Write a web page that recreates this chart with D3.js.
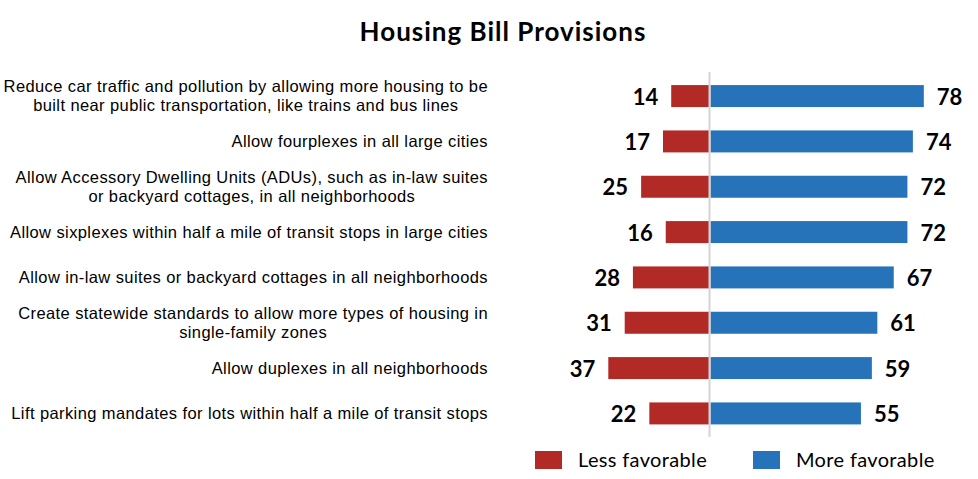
<!DOCTYPE html>
<html>
<head>
<meta charset="utf-8">
<script src="https://cdn.jsdelivr.net/npm/d3@7"></script>
<style>
  body { margin: 0; background: #fff; }
  svg { display: block; }
</style>
</head>
<body>
<svg id="chart" width="978" height="479"></svg>
<script>
const categories = [
  ["Reduce car traffic and pollution by allowing more housing to be", "built near public transportation, like trains and bus lines"],
  ["Allow fourplexes in all large cities"],
  ["Allow Accessory Dwelling Units (ADUs), such as in-law suites", "or backyard cottages, in all neighborhoods"],
  ["Allow sixplexes within half a mile of transit stops in large cities"],
  ["Allow in-law suites or backyard cottages in all neighborhoods"],
  ["Create statewide standards to allow more types of housing in", "single-family zones"],
  ["Allow duplexes in all neighborhoods"],
  ["Lift parking mandates for lots within half a mile of transit stops"]
];
const lessFavorable = [14, 17, 25, 16, 28, 31, 37, 22];
const moreFavorable = [78, 74, 72, 72, 67, 61, 59, 55];
const seriesNames = ["Less favorable", "More favorable"];
const colors = ["#B22A26", "#2673BA"];

const svg = d3.select("#chart");
const center = 709.5;
const pxPerUnit = 2.735;

const x = d3.scaleLinear().domain([-100, 100]).range([center - 100 * pxPerUnit, center + 100 * pxPerUnit]);
const y = d3.scaleBand().domain(d3.range(categories.length)).range([73.3, 436.2]).paddingInner(0.515).paddingOuter(0.26);

// Title
svg.append("text")
  .attr("x", 503).attr("y", 41)
  .attr("text-anchor", "middle")
  .style("font-family", "Lato, 'Open Sans', sans-serif")
  .style("font-weight", "bold")
  .style("font-size", "26px")
  .style("letter-spacing", "1px")
  .style("fill", "#000")
  .text("Housing Bill Provisions");

// Bars
const rows = svg.append("g");
rows.selectAll("rect.less").data(lessFavorable).join("rect")
  .attr("class", "less")
  .attr("x", d => x(-d))
  .attr("y", (d, i) => y(i))
  .attr("width", d => x(0) - x(-d))
  .attr("height", y.bandwidth())
  .attr("fill", colors[0]);

rows.selectAll("rect.more").data(moreFavorable).join("rect")
  .attr("class", "more")
  .attr("x", x(0) + 1)
  .attr("y", (d, i) => y(i))
  .attr("width", d => x(d) - x(0))
  .attr("height", y.bandwidth())
  .attr("fill", colors[1]);

// Center line
svg.append("line")
  .attr("x1", x(0)).attr("x2", x(0))
  .attr("y1", 72).attr("y2", 437)
  .attr("stroke", "#d4d4d4").attr("stroke-width", 2);

// Value labels
const valFont = "Lato, 'Open Sans', sans-serif";
rows.selectAll("text.lessv").data(lessFavorable).join("text")
  .attr("x", d => x(-d) - 13)
  .attr("y", (d, i) => y(i) + y.bandwidth() / 2 + 8.5)
  .attr("text-anchor", "end")
  .style("font-family", valFont).style("font-weight", "bold").style("font-size", "22px")
  .text(d => d);

rows.selectAll("text.morev").data(moreFavorable).join("text")
  .attr("x", d => x(d) + 14)
  .attr("y", (d, i) => y(i) + y.bandwidth() / 2 + 8.5)
  .attr("text-anchor", "start")
  .style("font-family", valFont).style("font-weight", "bold").style("font-size", "22px")
  .text(d => d);

// Category labels
const labelRight = 488;
const lineH = 18.5;
categories.forEach((lines, i) => {
  const cy = y(i) + y.bandwidth() / 2;
  const g = svg.append("g");
  const texts = lines.map((ln, j) => g.append("text")
    .attr("y", cy + 5.6 + (j - (lines.length - 1) / 2) * lineH)
    .attr("text-anchor", "middle")
    .style("font-family", "'Liberation Sans', Arial, sans-serif")
    .style("font-size", "16.5px")
    .style("letter-spacing", "0.4px")
    .style("fill", "#000")
    .text(ln));
  const maxW = d3.max(texts, t => t.node().getComputedTextLength());
  texts.forEach(t => t.attr("x", labelRight - maxW / 2));
});

// Legend
const legend = svg.append("g");
const legX = [535, 753];
seriesNames.forEach((name, i) => {
  legend.append("rect")
    .attr("x", legX[i]).attr("y", 451)
    .attr("width", 27).attr("height", 18)
    .attr("fill", colors[i]);
  legend.append("text")
    .attr("x", legX[i] + 43).attr("y", 466.5)
    .style("font-family", "Lato, 'Open Sans', sans-serif")
    .style("font-size", "20px")
    .style("letter-spacing", "0.35px")
    .style("fill", "#000")
    .text(name);
});
</script>
</body>
</html>
